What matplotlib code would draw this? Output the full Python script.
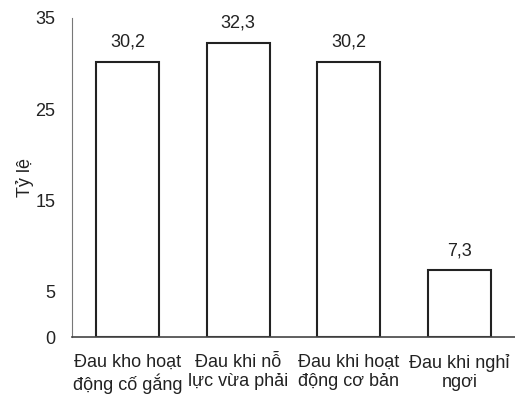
import matplotlib
matplotlib.use('Agg')
import matplotlib.pyplot as plt

plt.rcParams['font.family'] = ['Liberation Sans', 'DejaVu Sans']

categories = ['Đau kho hoạt\nđộng cố gắng', 'Đau khi nỗ\nlực vừa phải',
              'Đau khi hoạt\nđộng cơ bản', 'Đau khi nghỉ\nngơi']
values = [30.2, 32.3, 30.2, 7.3]
value_labels = ['30,2', '32,3', '30,2', '7,3']
yticks = [0, 5, 15, 25, 35]

fig = plt.figure(figsize=(5.15, 4), dpi=100)
ax = fig.add_axes([0.1398, 0.1575, 0.8602, 0.7975])

x = range(len(categories))
rects = ax.bar(x, values, 0.57, color='white', edgecolor='#222222', linewidth=1.5)
for rec, lab in zip(rects, value_labels):
    ax.annotate(lab, (rec.get_x() + rec.get_width() / 2, rec.get_height()),
                xytext=(0, 8), textcoords='offset points',
                ha='center', va='bottom', fontsize=13, color='#222222')

ax.set_xlim(-0.5, 3.5)
ax.set_ylim(0, 35)
ax.set_yticks(yticks)
ax.set_xticks(list(x))
ax.set_xticklabels(categories, fontsize=13, color='#222222', linespacing=1.15)
ax.tick_params(axis='y', length=0, labelsize=13, labelcolor='#222222', pad=12)
ax.tick_params(axis='x', length=0, pad=12)
ax.set_ylabel('Tỷ lệ', fontsize=13, color='#222222', labelpad=1)

ax.spines['top'].set_visible(False)
ax.spines['right'].set_visible(False)
ax.spines['left'].set_color('#777777')
ax.spines['bottom'].set_color('#444444')
ax.spines['bottom'].set_linewidth(1.2)

fig.savefig('out.png', dpi=100)
